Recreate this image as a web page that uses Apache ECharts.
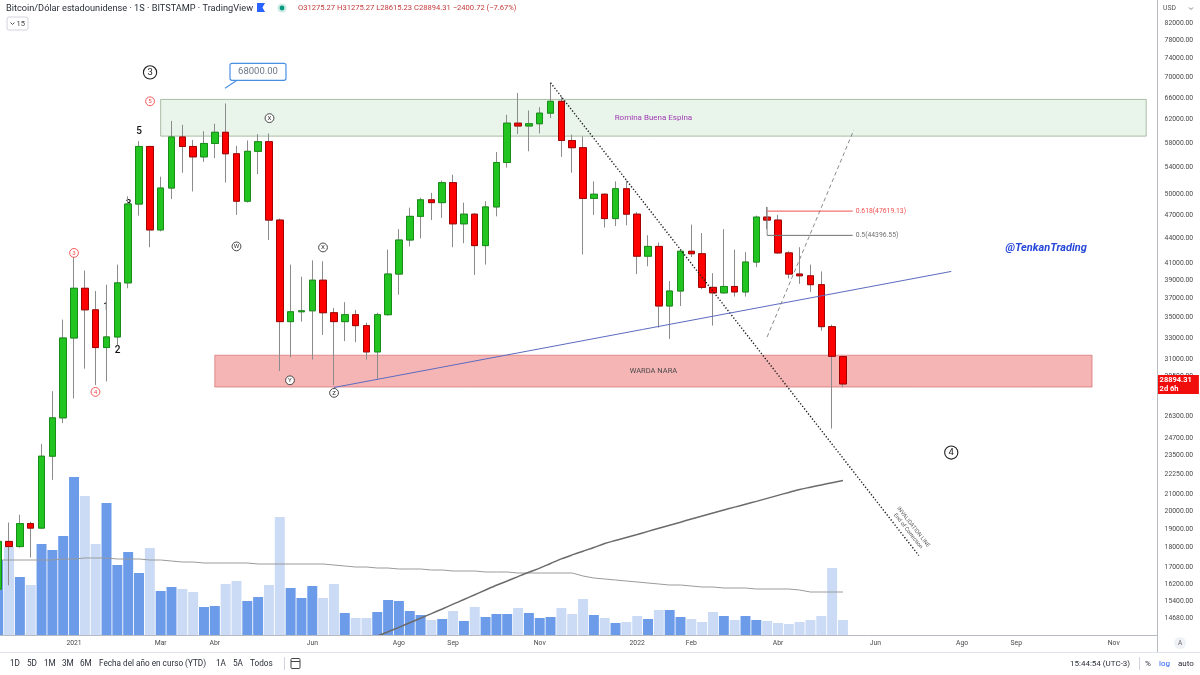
<!DOCTYPE html>
<html lang="es">
<head>
<meta charset="utf-8">
<title>Bitcoin/Dólar estadounidense · 1S · BITSTAMP</title>
<script src="https://cdn.jsdelivr.net/npm/echarts@6.0.0/dist/echarts.min.js"></script>
<style>
    html, body { margin: 0; padding: 0; background: #fff; }
    #chart1 { width: 1200px; height: 675px; }
</style>
</head>
<body>
<div id="chart1"></div>
<script>
// 周K线 BTC/USD (BITSTAMP), 第一根 2020-11-16
var weekCount = 107;   // 含右侧空白的周数
var weeks = [];
(function () {
    var t0 = Date.UTC(2020, 10, 16);
    for (var i = 0; i < weekCount; i++) {
        weeks.push(new Date(t0 + i * 7 * 864e5).toISOString().slice(0, 10));
    }
})();

var xTickDates = ['2021-01-04', '2021-03-01', '2021-04-05', '2021-06-07', '2021-08-02', '2021-09-06', '2021-11-01',
    '2022-01-03', '2022-02-07', '2022-04-04', '2022-06-06', '2022-08-01', '2022-09-05', '2022-11-07'];
var xTickNames = ['2021', 'Mar', 'Abr', 'Jun', 'Ago', 'Sep', 'Nov', '2022', 'Feb', 'Abr', 'Jun', 'Ago', 'Sep', 'Nov'];

var yTicks = [82000, 78000, 74000, 70000, 66000, 62000, 58000, 54000, 50000, 47000, 44000, 41000, 39000, 37000,
    35000, 33000, 31000, 29500, 26300, 24700, 23500, 22250, 21000, 20000, 19000, 18000, 17000, 16200, 15400, 14680];
var priceMin = 13987, priceMax = 87650;

var openP = [15970, 18330, 18060, 19300, 19050, 23450, 26200, 33000, 38100, 35800,
    32100, 33100, 38700, 48600, 57400, 45100, 50900, 59000, 57400, 55700,
    57900, 59800, 56200, 49000, 56600, 58200, 46400, 34600, 35600, 35700,
    39000, 35500, 34600, 35300, 34200, 31700, 35300, 39700, 43800, 46900,
    49200, 48800, 51700, 45900, 47200, 43100, 48200, 54800, 61400, 60900,
    61300, 63200, 65400, 58400, 57200, 49400, 50000, 46600, 50800, 47200,
    41800, 43000, 36200, 37800, 42400, 42100, 38200, 37600, 38300, 37700,
    41100, 46800, 46400, 42200, 39700, 39500, 38500, 34100, 31275.27];
var highP = [18960, 19360, 19800, 19400, 24300, 28300, 34800, 41700, 40100, 37800,
    38500, 40800, 49700, 58300, 57500, 52600, 61800, 61100, 58500, 60000,
    61300, 65000, 57500, 58400, 59500, 59600, 46600, 40800, 39400, 41300,
    41200, 36000, 36600, 35800, 34500, 35500, 42600, 45200, 48100, 49500,
    50200, 52000, 52900, 48800, 47300, 49000, 56500, 62900, 67000, 63700,
    64300, 69000, 66300, 59400, 59100, 51900, 50100, 51900, 52000, 47500,
    44400, 43500, 38900, 42600, 45800, 44700, 39800, 45200, 42600, 42300,
    47000, 48200, 47100, 42400, 42900, 40800, 40000, 34300, 31275.27];
var lowP = [15800, 16150, 18000, 17500, 19000, 21900, 25800, 27700, 30200, 28800,
    29100, 32300, 38100, 47000, 42900, 44900, 49300, 53200, 50400, 54900,
    55500, 51700, 47100, 48800, 53000, 43800, 30000, 31200, 34600, 31000,
    33300, 28800, 32700, 32600, 31000, 29300, 35200, 37400, 43000, 44000,
    46400, 46700, 42900, 43400, 39600, 40800, 46900, 54000, 59500, 56600,
    59600, 62300, 55700, 53200, 42000, 47100, 45400, 45600, 45700, 39700,
    40600, 34000, 32900, 36200, 41700, 38000, 34200, 37500, 37200, 37200,
    40500, 45200, 42100, 39200, 38600, 37700, 33700, 25400, 28615.23];
var closeP = [18330, 18060, 19300, 19050, 23450, 26200, 33000, 38100, 35800, 32100,
    33100, 38700, 48600, 57400, 45100, 50900, 59000, 57400, 55700, 57900,
    59800, 56200, 49000, 56600, 58200, 46400, 34600, 35600, 35700, 39000,
    35500, 34600, 35300, 34200, 31700, 35300, 39700, 43800, 46900, 49200,
    48800, 51700, 45900, 47200, 43100, 48200, 54800, 61400, 60900, 61300,
    63200, 65400, 58400, 57200, 49400, 50000, 46600, 50800, 47200, 41800,
    43000, 36200, 37800, 42400, 42100, 38200, 37600, 38300, 37700, 41100,
    46800, 46400, 42200, 39700, 39500, 38500, 34100, 31295.03, 28894.31];

// 成交量 (千 BTC) 与其均线
var volume = [75, 88, 58, 50, 91, 85, 99, 158, 139, 91,
    132, 70, 83, 62, 87, 44, 48, 46, 43, 28,
    29, 51, 54, 34, 38, 50, 118, 47, 37, 49,
    37, 51, 22, 17, 17, 23, 35, 34, 24, 20,
    15, 16, 24, 14, 28, 18, 21, 21, 27, 22,
    17, 18, 27, 21, 36, 20, 17, 12, 13, 19,
    16, 25, 25, 18, 16, 13, 23, 19, 15, 19,
    15, 14, 12, 11, 13, 15, 19, 67, 15];
var volMa = [75, 75, 75, 75, 75, 75, 76, 76, 77, 77,
    77, 76, 76, 76, 75, 75, 74, 73, 73, 72,
    72, 72, 72, 72, 71, 71, 71, 71, 71, 71,
    71, 70, 69, 68, 68, 67, 67, 66, 66, 66,
    65, 65, 64, 64, 64, 63, 63, 63, 62, 62,
    62, 62, 62, 62, 59, 57, 56, 55, 54, 53,
    52, 51, 50, 50, 49, 48, 48, 47, 47, 47,
    46, 46, 46, 46, 45, 43, 43, 43, 43];
var volMax = 200;

// 200周均线, 从第33周开始
var ma200Start = 33;
var ma200 = [13500, 13750, 13940, 14120, 14300, 14490, 14680, 14880, 15080, 15290,
    15500, 15710, 15930, 16150, 16350, 16560, 16770, 16970, 17200, 17430,
    17630, 17820, 18010, 18220, 18380, 18540, 18700, 18870, 19040, 19210,
    19380, 19560, 19730, 19900, 20070, 20240, 20410, 20580, 20760, 20940,
    21120, 21300, 21440, 21580, 21720, 21860];

// 画线 (周序号, 价格)
var zones = [
    {name: 'Romina Buena Espina', from: 15, to: 106, top: 65760, bottom: 59140, kind: 'green'},
    {name: 'WARDA NARA', from: 20, to: 101, top: 31400, bottom: 28640, kind: 'red'}
];
var drawLines = [
    {from: [51, 69000], to: [85, 17600], kind: 'dotted'},
    {from: [31, 28600], to: [88, 40000], kind: 'trend'},
    {from: [71, 33100], to: [79, 60200], kind: 'dashed'}
];
var fibLevels = [{ratio: '0.618', price: 47619.13}, {ratio: '0.5', price: 44396.55}];
var fibFrom = 71, fibTo = 78.9, fibHigh = 48200;
var waveLabels = [
    ['3', 14.02, 71100, 'big'], ['5', 14.02, 65400, 'red'], ['5', 13.0, 59900, 'plain'], ['3', 12.03, 48600, 'plain'],
    ['3', 7.0, 42200, 'red'], ['1', 9.95, 36000, 'plain'], ['2', 11.02, 31800, 'plain'], ['4', 8.98, 28240, 'red'],
    ['X', 25.05, 62300, 'small'], ['W', 22.0, 43000, 'small'], ['X', 29.99, 42870, 'small'], ['Y', 26.94, 29200, 'small'],
    ['Z', 31.01, 28160, 'small'], ['4', 88.0, 23700, 'big']
];
var callout = {text: '68000.00', at: [20.94, 67900]};
var signature = {text: '@TenkanTrading', at: [93.0, 42800]};
var invalidation = {text: 'INVALIDATION LINE\nEnd of Correction', at: [84.25, 19000]};

var FONT = 'Roboto, "Noto Sans", sans-serif';

(function () {
    var myChart = echarts.init(document.querySelector('#chart1'));
    var lg = function (p) { return p == null ? null : Math.log10(p); };
    var last = openP.length - 1;

    var wickData = openP.map(function (o, i) {
        return [lg(o), lg(closeP[i]), lg(lowP[i]), lg(highP[i])];
    });
    var bodyData = openP.map(function (o, i) {
        var c = closeP[i];
        return [lg(o), lg(c), lg(Math.min(o, c)), lg(Math.max(o, c))];
    });
    var volData = volume.map(function (v, i) {
        return {value: v, itemStyle: {color: closeP[i] >= openP[i] ? '#6b9be9' : '#cbdbf6'}};
    });
    var maData = openP.map(function (o, i) {
        var k = i - ma200Start;
        return k >= 0 && k < ma200.length ? lg(ma200[k]) : null;
    });

    //指定配置项和数据
    option = {
        animation: false,
        backgroundColor: '#ffffff',
        textStyle: {fontFamily: FONT},
        grid: [
            {left: -7.2, right: 48.39, top: 0, height: 635, containLabel: false, outerBoundsMode: 'none'},
            {left: -7.2, right: 48.39, top: 435, height: 200, containLabel: false, outerBoundsMode: 'none'}
        ],
        xAxis: [
            {
                type: 'category', gridIndex: 0, data: weeks, boundaryGap: true,
                axisLine: {show: false}, axisTick: {show: false}, splitLine: {show: false},
                axisLabel: {
                    interval: function (idx, val) { return xTickDates.indexOf(val) >= 0; },
                    formatter: function (val) {
                        var k = xTickDates.indexOf(val);
                        return k >= 0 ? xTickNames[k] : '';
                    },
                    color: '#4a4a4a', fontSize: 6.8, margin: 5, fontFamily: FONT
                }
            },
            {type: 'category', gridIndex: 1, data: weeks, boundaryGap: true, show: false}
        ],
        yAxis: [
            {
                type: 'value', gridIndex: 0, position: 'right', min: lg(priceMin), max: lg(priceMax),
                axisLine: {show: false}, axisTick: {show: false}, splitLine: {show: false},
                axisLabel: {
                    customValues: yTicks.map(lg),
                    formatter: function (v) { return Math.round(Math.pow(10, v)).toFixed(2); },
                    color: '#4a4a4a', fontSize: 6.8, margin: 13, fontFamily: FONT
                }
            },
            {type: 'value', gridIndex: 1, min: 0, max: volMax, show: false}
        ],
        series: [
            {
                name: 'Volumen', type: 'bar', xAxisIndex: 1, yAxisIndex: 1,
                data: volData, barWidth: '92%', z: 1
            },
            {
                name: 'Vol MA', type: 'line', xAxisIndex: 1, yAxisIndex: 1, data: volMa,
                symbol: 'none', lineStyle: {color: '#9a9a9a', width: 1}, z: 2
            },
            {
                name: 'MA 200', type: 'line', xAxisIndex: 0, yAxisIndex: 0, data: maData, smooth: 0.3,
                symbol: 'none', lineStyle: {color: '#6b6b6b', width: 1.5}, z: 3
            },
            {
                name: 'Mechas', type: 'candlestick', xAxisIndex: 0, yAxisIndex: 0, data: wickData, barWidth: 7,
                itemStyle: {color: 'transparent', color0: 'transparent', borderColor: '#8c8c8c', borderColor0: '#8c8c8c', borderWidth: 1},
                z: 4
            },
            {
                name: 'Velas', type: 'candlestick', xAxisIndex: 0, yAxisIndex: 0, data: bodyData, barWidth: 7,
                itemStyle: {color: '#21c421', color0: '#ff0000', borderColor: '#178f17', borderColor0: '#a30000', borderWidth: 1},
                z: 5,
                markLine: {
                    silent: true, symbol: ['none', 'none'], animation: false,
                    lineStyle: {color: 'rgba(0,0,0,0)', width: 1},
                    label: {
                        show: true, position: 'end', distance: 6,
                        formatter: closeP[last].toFixed(2) + '\n2d 6h',
                        color: '#ffffff', backgroundColor: '#f20d0d', fontSize: 7.5, lineHeight: 8.5,
                        padding: [1, 7, 1, 2], fontFamily: FONT, fontWeight: 'bold', align: 'left'
                    },
                    data: [{yAxis: lg(closeP[last])}]
                }
            }
        ]
    };
    //将配置项给echarts实例对象
    myChart.setOption(option);

    // 数据坐标 -> 像素 (周序号可为小数)
    function px(i, p) {
        var i0 = Math.floor(i);
        var a = myChart.convertToPixel({seriesIndex: 3}, [i0, lg(p)]);
        if (i === i0) return a;
        var b = myChart.convertToPixel({seriesIndex: 3}, [i0 + 1, lg(p)]);
        return [a[0] + (b[0] - a[0]) * (i - i0), a[1]];
    }
    function txt(x, y, s, st) {
        var style = {text: s, fill: '#333', fontSize: 8, fontFamily: FONT, verticalAlign: 'middle'};
        for (var k in st) style[k] = st[k];
        return {type: 'text', x: x, y: y, silent: true, z: 20, style: style};
    }
    function seg(x1, y1, x2, y2, st, z) {
        return {type: 'line', silent: true, z: z == null ? 20 : z, shape: {x1: x1, y1: y1, x2: x2, y2: y2}, style: st};
    }

    var g = [];
    // 区域
    zones.forEach(function (zn) {
        var a = px(zn.from, zn.top), b = px(zn.to, zn.bottom);
        var green = zn.kind === 'green';
        g.push({type: 'rect', silent: true, z: 0,
            shape: {x: a[0], y: a[1], width: b[0] - a[0], height: b[1] - a[1]},
            style: {fill: green ? 'rgba(76,175,80,0.12)' : 'rgba(232,60,60,0.38)',
                stroke: green ? 'rgba(110,140,100,0.55)' : 'rgba(205,90,90,0.6)', lineWidth: 1}});
        var t = txt((a[0] + b[0]) / 2, (a[1] + b[1]) / 2, zn.name,
            {fill: green ? '#a03cb4' : '#4a4a4a', fontSize: green ? 8 : 7.5, align: 'center'});
        t.z = 0;
        g.push(t);
    });
    // 趋势线
    var lineStyles = {
        dotted: {stroke: '#1e1e1e', lineWidth: 1.4, lineDash: [1.3, 1.9]},
        trend: {stroke: '#5c6bc0', lineWidth: 1},
        dashed: {stroke: '#8a8a8a', lineWidth: 1, lineDash: [4, 3]}
    };
    drawLines.forEach(function (l) {
        var a = px(l.from[0], l.from[1]), b = px(l.to[0], l.to[1]);
        g.push(seg(a[0], a[1], b[0], b[1], lineStyles[l.kind], 10));
    });
    // 斐波那契
    var fa = px(fibFrom, fibHigh), fb = px(fibFrom, fibLevels[fibLevels.length - 1].price);
    g.push(seg(fa[0], fa[1], fb[0], fb[1], {stroke: '#8a8a8a', lineWidth: 1}, 10));
    fibLevels.forEach(function (f, k) {
        var a = px(fibFrom, f.price), b = px(fibTo, f.price);
        var col = k === 0 ? '#f05050' : '#707070';
        g.push(seg(a[0], a[1], b[0], b[1], {stroke: col, lineWidth: 1}, 10));
        g.push(txt(b[0] + 3, b[1], f.ratio + '(' + f.price.toFixed(2) + ')', {fill: col, fontSize: 6.8}));
    });
    // 波浪标注
    waveLabels.forEach(function (w) {
        var p = px(w[1], w[2]);
        if (w[3] === 'plain') {
            g.push(txt(p[0], p[1], w[0], {fill: '#111', fontSize: 10, align: 'center', fontWeight: 500}));
            g[g.length - 1].z = 1;
            return;
        }
        var big = w[3] === 'big', red = w[3] === 'red';
        var col = red ? '#f04848' : (big ? '#222' : '#333');
        g.push({type: 'circle', silent: true, z: 20, shape: {cx: p[0], cy: p[1], r: big ? 6.6 : 4.4},
            style: {fill: '#fff', stroke: col, lineWidth: big ? 1.1 : 0.9}});
        g.push(txt(p[0], p[1] + 0.3, w[0], {fill: col, fontSize: big ? 9.5 : 6.2, align: 'center'}));
    });
    // 68000 标签
    var cp = px(callout.at[0], callout.at[1]);
    g.push(seg(cp[0], cp[1], cp[0] + 12, cp[1] - 8, {stroke: '#4a90e2', lineWidth: 1.2}));
    g.push({type: 'rect', silent: true, z: 20, shape: {x: cp[0] + 5, y: cp[1] - 25, width: 56, height: 17, r: 2},
        style: {fill: '#fff', stroke: '#4a90e2', lineWidth: 1.2}});
    g.push(txt(cp[0] + 33, cp[1] - 16.5, callout.text, {fill: '#6b7788', fontSize: 9.5, align: 'center'}));
    // 签名
    var sp = px(signature.at[0], signature.at[1]);
    g.push(txt(sp[0], sp[1], signature.text, {fill: '#2748d8', fontSize: 11, fontWeight: 'bold', fontStyle: 'italic'}));
    // 失效线文字
    var ip = px(invalidation.at[0], invalidation.at[1]);
    g.push({type: 'text', silent: true, z: 20, x: ip[0], y: ip[1], rotation: -0.904,
        style: {text: invalidation.text, fill: '#555', fontSize: 5.6, lineHeight: 6.6, fontFamily: FONT,
            align: 'center', verticalAlign: 'middle'}});

    // 界面框架 (表头, 坐标轴线, 工具栏)
    var prevC = closeP[last - 1], chg = closeP[last] - prevC;
    var ohlc = 'O' + openP[last].toFixed(2) + ' H' + highP[last].toFixed(2) + ' L' + lowP[last].toFixed(2) +
        ' C' + closeP[last].toFixed(2) + ' ' + chg.toFixed(2).replace('-', '\u2212') +
        ' (' + (chg / prevC * 100).toFixed(2).replace('-', '\u2212') + '%)';
    g.push(txt(6, 8.5, 'Bitcoin/Dólar estadounidense · 1S · BITSTAMP · TradingView', {fill: '#2a2e39', fontSize: 9.2}));
    g.push({type: 'polygon', silent: true, z: 20, shape: {points: [[257, 3], [265, 3], [262.5, 7.5], [265, 12], [257, 12]]},
        style: {fill: '#2962ff'}});
    g.push({type: 'circle', silent: true, z: 20, shape: {cx: 282, cy: 8, r: 4.6}, style: {fill: 'rgba(8,153,129,0.2)'}});
    g.push({type: 'circle', silent: true, z: 20, shape: {cx: 282, cy: 8, r: 2.4}, style: {fill: '#089981'}});
    g.push(txt(298, 8.5, ohlc, {fill: '#c43b3b', fontSize: 7.6}));
    g.push({type: 'rect', silent: true, z: 20, shape: {x: 7, y: 17, width: 21, height: 13, r: 2},
        style: {fill: 'none', stroke: '#d1d4dc', lineWidth: 1}});
    g.push({type: 'polyline', silent: true, z: 20, shape: {points: [[10.5, 22.5], [12.5, 24.5], [14.5, 22.5]]},
        style: {stroke: '#555', lineWidth: 1, fill: 'none'}});
    g.push(txt(16.5, 23.8, '15', {fill: '#444', fontSize: 7.5}));
    g.push(txt(1163, 8.5, 'USD', {fill: '#555', fontSize: 6.8}));
    g.push({type: 'polyline', silent: true, z: 20, shape: {points: [[1189, 7.5], [1191, 9.5], [1193, 7.5]]},
        style: {stroke: '#777', lineWidth: 0.9, fill: 'none'}});
    g.push(seg(0, 635.5, 1157, 635.5, {stroke: '#b8bbc2', lineWidth: 1}));
    g.push(seg(1157.5, 0, 1157.5, 652, {stroke: '#b8bbc2', lineWidth: 1}));
    g.push(seg(0, 652.5, 1200, 652.5, {stroke: '#e0e3eb', lineWidth: 1}));
    g.push({type: 'circle', silent: true, z: 20, shape: {cx: 1180, cy: 643, r: 6}, style: {fill: '#eef1f6'}});
    g.push(txt(1180, 643.3, 'A', {fill: '#666', fontSize: 6.5, align: 'center'}));
    var toolbar = [['1D', 10], ['5D', 27], ['1M', 44], ['3M', 62], ['6M', 80], ['Fecha del año en curso (YTD)', 99],
        ['1A', 216], ['5A', 233], ['Todos', 250]];
    toolbar.forEach(function (b) { g.push(txt(b[1], 663.5, b[0], {fill: '#2a2e39', fontSize: 8.2})); });
    g.push(seg(284.5, 657, 284.5, 670, {stroke: '#d1d4dc', lineWidth: 1}));
    g.push({type: 'rect', silent: true, z: 20, shape: {x: 291, y: 658.5, width: 9, height: 10, r: 1},
        style: {fill: 'none', stroke: '#444', lineWidth: 1}});
    g.push(seg(291, 661.5, 300, 661.5, {stroke: '#444', lineWidth: 1}));
    g.push(txt(1070, 663.5, '15:44:54 (UTC-3)', {fill: '#2a2e39', fontSize: 8}));
    g.push(seg(1139.5, 657, 1139.5, 670, {stroke: '#d1d4dc', lineWidth: 1}));
    g.push(txt(1145, 663.5, '%', {fill: '#2a2e39', fontSize: 8}));
    g.push(txt(1159, 663.5, 'log', {fill: '#2962ff', fontSize: 8}));
    g.push(txt(1178, 663.5, 'auto', {fill: '#2a2e39', fontSize: 8}));

    myChart.setOption({graphic: g});

    //让图表自动适应屏幕
    window.addEventListener('resize', function () {
        myChart.resize();
    });
})();
</script>
</body>
</html>
